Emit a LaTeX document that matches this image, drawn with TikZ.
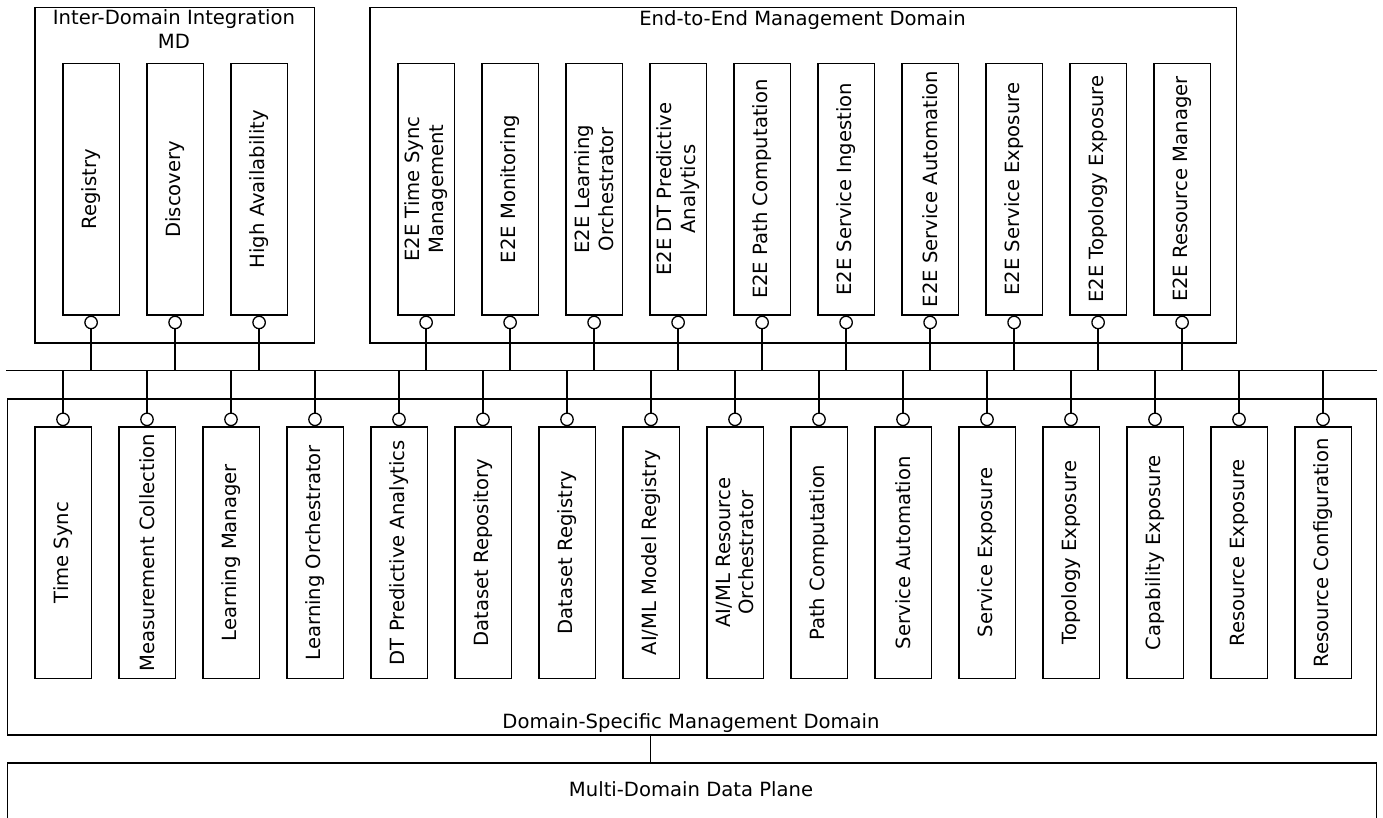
\documentclass[tikz,border=0pt]{standalone}
\usepackage{fontspec}
\setmainfont{DejaVu Sans}
\begin{document}
\begin{tikzpicture}[x=1pt,y=-1pt,
  lw/.style={line width=1.3pt},
  txt/.style={font=\fontsize{19.6}{23.5}\selectfont, inner sep=0pt, align=center},
  comp/.style={draw, lw, minimum width=56.3pt, minimum height=251.6pt, inner sep=0pt, anchor=north west},
  vlab/.style={txt, rotate=90},
  port/.style={draw, lw, circle, minimum size=12.4pt, inner sep=0pt, fill=white},
  dombox/.style={draw, lw, anchor=north west, inner sep=0pt},
  conn/.style={lw}]
\clip (0,0) rectangle (1383,817);
\fill[white] (0,0) rectangle (1383,817);

% domains
\node[dombox, minimum width=279.4pt, minimum height=335.6pt] (idi) at (34.3,6.7) {};
\node[txt, anchor=base] (idit) at (174,48.3) {Inter-Domain Integration\\MD};
\node[dombox, minimum width=866.4pt, minimum height=335.6pt] (e2e) at (369.3,6.7) {};
\node[txt, anchor=base] (e2et) at (802.5,25) {End-to-End Management Domain};
\node[dombox, minimum width=1369pt, minimum height=336pt] (dsmd) at (6.5,398.3) {};
\node[txt, anchor=base] (dsmdt) at (691,728) {Domain-Specific Management Domain};
\node[dombox, minimum width=1369pt, minimum height=90pt] (mddp) at (6.5,762.3) {};
\node[txt, anchor=base] (mddpt) at (691,796.7) {Multi-Domain Data Plane};

% bus
\coordinate (busL) at (6,370.3);
\coordinate (busR) at (1376.5,370.3);
\draw[conn] (busL) -- (busR);

% inter-domain components
\foreach \t [count=\i from 0] in {Registry, Discovery, High Availability}{
  \node[comp] (a\i) at (62.3+84*\i,62.7) {};
  \node[vlab] at (a\i) {\t};
  \node[port, anchor=north] (pa\i) at (a\i.south) {};
  \draw[conn] (pa\i.south) -- (pa\i.south |- busL);
}

% E2E components
\foreach \t [count=\i from 0] in {{E2E Time Sync\\Management}, E2E Monitoring, {E2E Learning\\Orchestrator}, {E2E DT Predictive\\Analytics}, E2E Path Computation, E2E Service Ingestion, E2E Service Automation, E2E Service Exposure, E2E Topology Exposure, E2E Resource Manager}{
  \node[comp] (e\i) at (397.3+84*\i,62.7) {};
  \node[vlab] at (e\i) {\t};
  \node[port, anchor=north] (pe\i) at (e\i.south) {};
  \draw[conn] (pe\i.south) -- (pe\i.south |- busL);
}

% domain-specific components
\foreach \t [count=\i from 0] in {Time Sync, Measurement Collection, Learning Manager, Learning Orchestrator, DT Predictive Analytics, Dataset Repository, Dataset Registry, AI/ML Model Registry, {AI/ML Resource\\Orchestrator}, Path Computation, Service Automation, Service Exposure, Topology Exposure, Capability Exposure, Resource Exposure, Resource Configuration}{
  \node[comp] (d\i) at (34.2+84*\i,426.2) {};
  \node[vlab] at (d\i) {\t};
  \node[port, anchor=south] (pd\i) at (d\i.north) {};
  \draw[conn] (pd\i.north) -- (pd\i.north |- busL);
}

% DSMD to data plane
\draw[conn] ([xshift=-41.5pt]dsmd.south) -- ([xshift=-41.5pt]dsmd.south |- mddp.north);
\end{tikzpicture}
\end{document}
